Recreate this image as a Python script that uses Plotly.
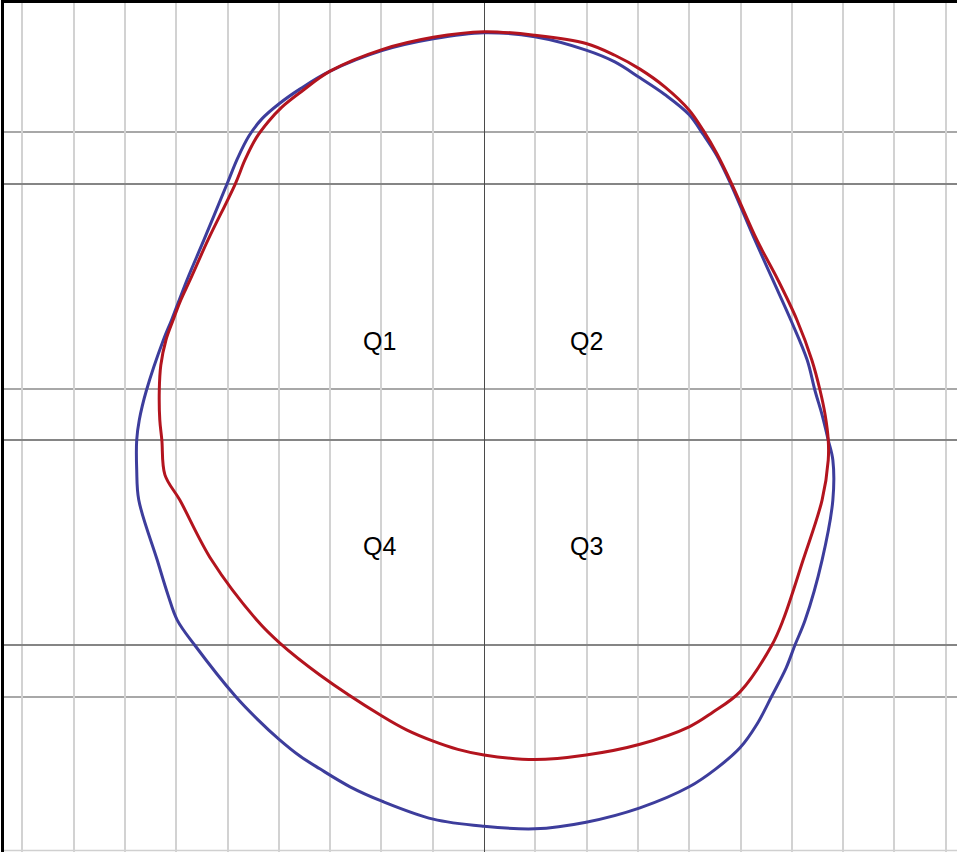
import plotly.graph_objects as go

# outline coordinates, in grid units (1 grid cell = 1), clockwise from the top
blue_x = [0, 0.99, 1.99, 2.55, 3.04, 3.53, 4.00, 4.27, 4.54, 4.81, 5.28, 5.63, 5.98, 6.30,
          6.45, 6.59, 6.71, 6.80, 6.80, 6.59, 6.26, 6.06, 5.89, 5.61, 5.32, 4.99, 4.52, 4.00,
          3.04, 1.99, 0.99, 0, -0.99, -1.99, -2.61, -3.20, -3.59, -4.00, -4.42, -4.85, -5.63,
          -5.98, -6.16, -6.37, -6.73, -6.77, -6.77, -6.72, -6.58, -6.25, -6.09, -5.79, -5.46,
          -5.01, -4.80, -4.58, -4.33, -4.00, -3.59, -3.00, -1.99, -0.99, 0]
blue_y = [7.94, 7.86, 7.60, 7.37, 7.06, 6.73, 6.34, 5.96, 5.54, 4.99, 3.90, 3.12, 2.34, 1.56,
          0.97, 0.49, 0, -0.39, -1.17, -2.34, -3.51, -4.00, -4.44, -4.99, -5.54, -6.00, -6.41,
          -6.76, -7.17, -7.45, -7.58, -7.53, -7.39, -7.04, -6.76, -6.41, -6.16, -5.83, -5.44,
          -4.99, -4.01, -3.51, -3.02, -2.34, -1.17, -0.58, 0, 0.39, 0.97, 1.95, 2.34, 3.12,
          3.90, 4.99, 5.50, 5.93, 6.26, 6.55, 6.84, 7.19, 7.59, 7.82, 7.94]

red_x = [0, 0.99, 1.99, 2.55, 3.04, 3.53, 4.00, 4.27, 4.54, 4.83, 5.32, 5.73, 6.10, 6.39,
         6.55, 6.65, 6.71, 6.71, 6.59, 6.22, 5.83, 5.61, 4.99, 4.44, 4.00, 3.04, 1.99, 0.99,
         0, -0.51, -0.99, -1.51, -1.99, -3.20, -3.98, -4.43, -5.31, -5.93, -6.22, -6.28,
         -6.32, -6.33, -6.30, -6.20, -6.06, -5.91, -5.73, -5.38, -4.85, -4.66, -4.44, -4.21,
         -3.94, -3.55, -3.00, -1.99, -0.99, 0]
red_y = [7.96, 7.89, 7.73, 7.50, 7.23, 6.88, 6.43, 6.04, 5.58, 4.99, 3.90, 3.12, 2.34, 1.56,
         0.97, 0.49, 0, -0.39, -1.17, -2.34, -3.51, -4.00, -4.91, -5.32, -5.59, -5.93, -6.14,
         -6.23, -6.14, -6.03, -5.87, -5.65, -5.38, -4.58, -3.96, -3.51, -2.34, -1.17, -0.68,
         0, 0.39, 0.97, 1.46, 1.95, 2.34, 2.73, 3.12, 3.90, 4.99, 5.46, 5.89, 6.20, 6.49,
         6.80, 7.19, 7.61, 7.85, 7.96]

quadrants = ["Q1", "Q2", "Q3", "Q4"]
quad_x = [-2.03, 2.0, 2.0, -2.03]
quad_y = [1.93, 1.93, -2.07, -2.07]

vgrid = list(range(-9, 10))
hgrid_dark = [5, 0, -4]
hgrid_light = [6, 1, -5]

fig = go.Figure()
fig.add_trace(go.Scatter(x=blue_x, y=blue_y, mode="lines",
                         line=dict(color="#3d3d9c", width=3, shape="spline", smoothing=1.0),
                         showlegend=False, hoverinfo="skip"))
fig.add_trace(go.Scatter(x=red_x, y=red_y, mode="lines",
                         line=dict(color="#b3141e", width=3, shape="spline", smoothing=1.0),
                         showlegend=False, hoverinfo="skip"))

for q, qx, qy in zip(quadrants, quad_x, quad_y):
    fig.add_annotation(x=qx, y=qy, text=q, showarrow=False,
                       font=dict(family="Liberation Sans, Arial", size=25, color="black"))

# darker horizontal axis segment through the centre
fig.add_shape(type="line", x0=-7.8, x1=7.8, y0=0, y1=0, layer="below",
              line=dict(color="#3c3c3c", width=1.3))
# faint line at the bottom edge
fig.add_shape(type="line", xref="paper", x0=0, x1=1, y0=-8, y1=-8, layer="below",
              line=dict(color="#d0d0d0", width=1.5))

fig.update_xaxes(range=[-9.357, 9.220], tickvals=vgrid, showticklabels=False,
                 showgrid=True, gridcolor="#d2d2d2", gridwidth=1.5,
                 zeroline=True, zerolinecolor="#4a4a4a", zerolinewidth=1.2,
                 side="top", showline=True, linecolor="black", linewidth=2.5,
                 fixedrange=True)
fig.update_yaxes(range=[-8.031, 8.519], tickvals=hgrid_dark, showticklabels=False,
                 showgrid=True, gridcolor="#858585", gridwidth=1.5, zeroline=False,
                 minor=dict(tickvals=hgrid_light, showgrid=True, gridcolor="#a8a8a8",
                            gridwidth=1.5),
                 showline=True, linecolor="black", linewidth=2.5,
                 fixedrange=True)

fig.update_layout(width=957, height=852, margin=dict(l=4, r=0, t=3, b=0),
                  plot_bgcolor="white", paper_bgcolor="white")

fig.write_html("out.html", config={"displayModeBar": False},
               post_script="document.body.style.margin='0px';")
